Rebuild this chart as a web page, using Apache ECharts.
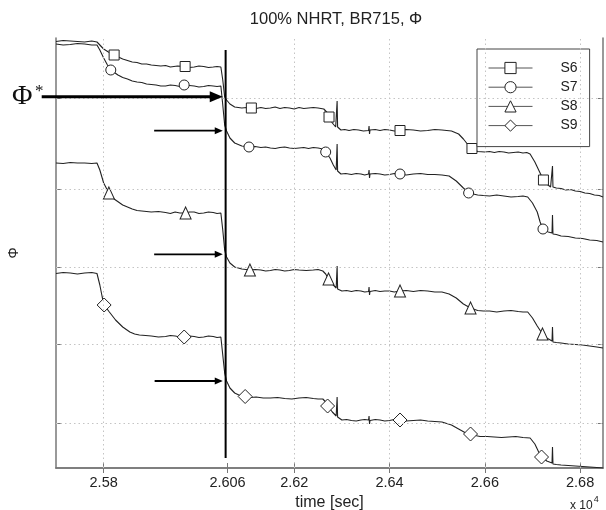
<!DOCTYPE html>
<html><head><meta charset="utf-8">
<script src="https://cdn.jsdelivr.net/npm/echarts@6/dist/echarts.min.js"></script>
<style>html,body{margin:0;padding:0;background:#fff}#c{width:606px;height:510px}</style>
</head><body><div id="c"></div>
<script>
const seriesNames = ['S6', 'S7', 'S8', 'S9'];
const xTickValues = [25800, 26060, 26200, 26400, 26600, 26800];
const xTickLabels = ['2.58', '2.606', '2.62', '2.64', '2.66', '2.68'];
const xGridValues = [25800, 26200, 26400, 26600, 26800];
const yTickValues = [45, 124, 201, 279, 370];

// [time (s), Φ (arbitrary units)]
const s6 = [[25700,426.5],[25715,427.5],[25730,427],[25745,426.5],[25760,426],[25775,427],[25786,426],[25792,423],[25800,419],[25810,416],[25822,413],[25840,409],[25850,407.5],[25860,406],[25870,405.5],[25880,404],[25890,404],[25900,403],[25910,402.5],[25920,402],[25930,402.5],[25940,401],[25955,402],[25971,401.5],[25980,400.5],[25990,401],[26000,402],[26010,401.5],[26020,400.5],[26030,401],[26038,401.5],[26046,401],[26050,388],[26054,371],[26058,368],[26065,364],[26075,361],[26090,360],[26100,360.5],[26110,360],[26120,359.5],[26130,360.5],[26140,359.5],[26150,360],[26160,361],[26170,359.5],[26180,360.5],[26190,360],[26200,359],[26210,360.5],[26220,359.5],[26230,360],[26240,360.5],[26250,360],[26262,359],[26268,356],[26273,351],[26280,345],[26287,341],[26290,367],[26291,341],[26298,338],[26306,338.5],[26315,337.5],[26325,338.5],[26335,338],[26345,337],[26356,337.5],[26357,342],[26358,334],[26359,338],[26370,338.5],[26380,337.5],[26390,338.5],[26400,338],[26410,337],[26422,337.5],[26435,338.5],[26450,338],[26465,337],[26480,337.5],[26495,338.5],[26510,338],[26520,337.5],[26530,337],[26545,334],[26555,329],[26565,323],[26573,319.5],[26585,316.5],[26600,316],[26610,316.5],[26620,315.5],[26630,316.5],[26640,316],[26650,315],[26660,315.5],[26670,316],[26680,315],[26688,315.5],[26695,314],[26705,306],[26715,296],[26723,288],[26730,284],[26738,281],[26742,302],[26743,281],[26750,280],[26760,279.5],[26770,278],[26780,278.5],[26790,277],[26800,276.5],[26810,275],[26820,274.5],[26830,273],[26840,272.5],[26848,271]];
const s7 = [[25700,424],[25715,423],[25730,423.5],[25745,424.5],[25760,424],[25775,423],[25786,423],[25792,418],[25800,410],[25808,403],[25815,398],[25830,393],[25840,390.5],[25850,389],[25860,387],[25870,386],[25880,385.5],[25890,384],[25900,383.5],[25910,383],[25920,382],[25930,382],[25940,383],[25950,382.5],[25960,381.5],[25969,383],[25980,382.5],[25990,382],[26000,381],[26010,381.5],[26020,382.5],[26030,382],[26038,381.5],[26046,382],[26050,363],[26054,343],[26058,337],[26065,330],[26075,325],[26090,322],[26105,321],[26118,321.5],[26130,320.5],[26140,321],[26150,320],[26160,319.5],[26170,320.5],[26180,321],[26190,320],[26200,319.5],[26210,320],[26220,320.5],[26230,319.5],[26240,320.5],[26250,320],[26260,319],[26266,316],[26275,310],[26282,303],[26288,298],[26290,324],[26291,297],[26298,294],[26308,294.5],[26320,293.5],[26330,294.5],[26340,294],[26348,293],[26356,294],[26357,298],[26358,290],[26359,294],[26370,294.5],[26380,294],[26390,293],[26400,293.5],[26410,294.5],[26422,294],[26435,293],[26450,294],[26465,294.5],[26480,293.5],[26495,293.5],[26510,293],[26525,292],[26540,287],[26555,280],[26566,275],[26585,273],[26597,272.5],[26610,272],[26625,273],[26640,272],[26655,271],[26670,271.5],[26680,272],[26690,271],[26700,265],[26710,256],[26716,246],[26722,239],[26733,236],[26741,235],[26742,253],[26743,234],[26750,233.5],[26760,232],[26775,231.5],[26790,230],[26805,229.5],[26820,228],[26835,227.5],[26848,226]];
const s8 = [[25700,305],[25715,304.5],[25730,305.5],[25745,305],[25760,305],[25775,304.5],[25786,305],[25792,298],[25800,285],[25811,275],[25822,269],[25840,263],[25850,261],[25860,259],[25870,257.5],[25880,257],[25890,256.5],[25900,256],[25915,256.5],[25930,255.5],[25940,254.5],[25950,256],[25960,255],[25972,255],[25980,256],[25990,256],[26000,254.5],[26010,255],[26020,256],[26030,255.5],[26038,254.5],[26046,255],[26050,238],[26054,218],[26058,211],[26065,205],[26075,201],[26090,199],[26107,198],[26118,198.5],[26130,198],[26140,197],[26150,197.5],[26160,198.5],[26170,198],[26180,197],[26190,197.5],[26200,198.5],[26210,198],[26225,197.5],[26240,198],[26250,198.5],[26260,197],[26266,194],[26272,189],[26280,184],[26288,180],[26290,202],[26291,179],[26300,177],[26310,177.5],[26320,176.5],[26330,177.5],[26340,177],[26348,176],[26356,176.5],[26357,181],[26358,173],[26359,176.5],[26370,177.5],[26380,176.5],[26390,177],[26400,177],[26410,176],[26422,177],[26435,177.5],[26450,176.5],[26465,177.5],[26480,177],[26495,176],[26510,176],[26525,174],[26540,170],[26555,164],[26570,160],[26585,157.5],[26597,157],[26610,157],[26625,156],[26640,157],[26655,157.5],[26670,156.5],[26680,156],[26690,156],[26700,150],[26710,142],[26721,134],[26730,130],[26741,127],[26742,141],[26743,126],[26750,125.5],[26760,125],[26775,124],[26790,123.5],[26805,123],[26820,122],[26835,121],[26848,120]];
const s9 = [[25700,194.5],[25715,195.5],[25730,195],[25745,194],[25760,195],[25775,195.5],[25786,194.5],[25792,183],[25797,171],[25801,163],[25812,156],[25825,148],[25840,141],[25855,136],[25865,134],[25875,133],[25888,132.5],[25900,132],[25915,131],[25930,131.5],[25940,132.5],[25950,132],[25960,131],[25969,131],[25980,132],[25990,131.5],[26000,130.5],[26010,131],[26020,132],[26030,131.5],[26038,130.5],[26046,131],[26050,113],[26054,95],[26058,87],[26065,80],[26075,75],[26088,72],[26097,71.5],[26108,70.5],[26120,71],[26135,70],[26150,70],[26165,70.5],[26180,69.5],[26195,69],[26210,70],[26225,70.5],[26240,69.5],[26250,69],[26260,69],[26266,66],[26270,62],[26280,56],[26288,52],[26290,71],[26291,51],[26300,48],[26310,48.5],[26320,47.5],[26330,47],[26340,48],[26348,48.5],[26356,48],[26357,52],[26358,44],[26359,47.5],[26370,48.5],[26380,48],[26390,47],[26400,47.5],[26410,48.5],[26422,48],[26435,47],[26450,47.5],[26465,48],[26480,47],[26495,46.5],[26510,46],[26530,43],[26545,39],[26560,35],[26570,34],[26580,32.5],[26590,31.5],[26605,31.5],[26620,31],[26635,30.5],[26650,31],[26665,31.5],[26680,30.5],[26695,30],[26705,24],[26713,16],[26719,11],[26730,7],[26741,5],[26742,21],[26743,4],[26750,3.5],[26760,3],[26775,2.5],[26790,2],[26805,1.5],[26820,1],[26835,0.5],[26848,0]];

// times at which markers are drawn
const s6Markers = [25822, 25971, 26110, 26273, 26422, 26573, 26723];
const s7Markers = [25815, 25969, 26105, 26266, 26422, 26566, 26722];
const s8Markers = [25811, 25972, 26107, 26272, 26422, 26570, 26721];
const s9Markers = [25801, 25969, 26097, 26270, 26422, 26570, 26719];

// annotations (data coordinates)
const cutTime = 26056;
const cutSpan = [10, 418];
const arrowStart = [25670, 25906, 25906, 25907];
const arrowEnd = 26050;
const arrowLevel = [371.3, 337.3, 213.7, 87];

const FONT = "'Liberation Sans', Arial, Helvetica, sans-serif";
const chart = echarts.init(document.getElementById('c'), null, {renderer: 'canvas'});

function lineSeries(name, data, markers, symbol, size) {
  return {
    name, type: 'line', data, symbol,
    symbolSize: v => (markers.indexOf(v[0]) >= 0 ? size : 0),
    showSymbol: true, showAllSymbol: true,
    lineStyle: {color: '#222', width: 1.1},
    itemStyle: {color: '#fff', borderColor: '#222', borderWidth: 1},
    emphasis: {disabled: true}, z: 3, animation: false
  };
}
const axisLineStyle = {show: true, lineStyle: {color: '#777', width: 1.5}};
const gridLineStyle = {color: '#c4c4c4', width: 1, type: [1.5, 3]};

const option = {
  animation: false,
  backgroundColor: '#fff',
  title: {text: '100% NHRT, BR715, \u03A6', left: 331, top: 6, textAlign: 'center',
    textStyle: {fontFamily: FONT, fontSize: 16.5, fontWeight: 'normal', color: '#222'}},
  grid: {left: 56, right: 3, top: 38, bottom: 42, outerBoundsMode: 'none', containLabel: false},
  legend: {
    data: seriesNames, orient: 'vertical', left: 477, top: 49,
    padding: [12, 12, 14, 11], itemGap: 5.2, itemWidth: 44, itemHeight: 14,
    backgroundColor: '#fff', borderColor: '#444', borderWidth: 1, borderRadius: 0,
    textStyle: {fontFamily: FONT, fontSize: 14, color: '#222', padding: [0, 0, 0, 23]},
    itemStyle: {color: '#fff', borderColor: '#222', borderWidth: 1},
    lineStyle: {color: '#555', width: 1},
    selectedMode: false, z: 5
  },
  xAxis: [
    {type: 'value', min: 25700, max: 26848, position: 'bottom',
      name: 'time [sec]', nameLocation: 'middle', nameGap: 23,
      nameTextStyle: {fontFamily: FONT, fontSize: 16, color: '#222'},
      axisLine: axisLineStyle,
      axisTick: {show: true, inside: true, length: 5, customValues: xTickValues, lineStyle: {color: '#777'}},
      axisLabel: {show: true, customValues: xTickValues, margin: 7, fontFamily: FONT, fontSize: 14.5, color: '#222',
        formatter: v => xTickLabels[xTickValues.indexOf(v)]},
      splitLine: {show: false}},
    {type: 'value', min: 25700, max: 26848, position: 'top',
      axisLine: axisLineStyle,
      axisTick: {show: true, inside: true, length: 5, customValues: xTickValues, lineStyle: {color: '#777'}},
      axisLabel: {show: false}, splitLine: {show: false}}
  ],
  yAxis: [
    {type: 'value', min: 0, max: 430, position: 'left',
      name: '\u03A6', nameLocation: 'middle', nameGap: 35, nameRotate: 90,
      nameTextStyle: {fontFamily: FONT, fontSize: 14, color: '#222'},
      axisLine: axisLineStyle,
      axisTick: {show: true, inside: true, length: 5, customValues: yTickValues, lineStyle: {color: '#777'}},
      axisLabel: {show: false}, splitLine: {show: false}},
    {type: 'value', min: 0, max: 430, position: 'right',
      axisLine: axisLineStyle,
      axisTick: {show: true, inside: true, length: 5, customValues: yTickValues, lineStyle: {color: '#777'}},
      axisLabel: {show: false}, splitLine: {show: false}}
  ],
  series: [
    {name: 'grid', type: 'line', data: [], z: 1, silent: true,
      markLine: {silent: true, symbol: 'none', label: {show: false}, animation: false,
        lineStyle: gridLineStyle,
        data: xGridValues.map(v => ({xAxis: v})).concat(yTickValues.map(v => ({yAxis: v})))}},
    lineSeries('S6', s6, s6Markers, 'rect', 10),
    lineSeries('S7', s7, s7Markers, 'circle', 10),
    lineSeries('S8', s8, s8Markers, 'triangle', [11, 12]),
    lineSeries('S9', s9, s9Markers, 'diamond', 14)
  ]
};
chart.setOption(option);

const toPx = (x, y) => chart.convertToPixel({xAxisIndex: 0, yAxisIndex: 0}, [x, y]);
const g = [];
const c0 = toPx(cutTime, cutSpan[0]), c1 = toPx(cutTime, cutSpan[1]);
g.push({type: 'line', z: 10, shape: {x1: c0[0], y1: c0[1], x2: c1[0], y2: c1[1]}, style: {stroke: '#000', lineWidth: 2}});
arrowStart.forEach((xs, i) => {
  const p0 = toPx(xs, arrowLevel[i]), p1 = toPx(arrowEnd, arrowLevel[i]);
  const bold = i === 0;
  const hl = bold ? 13 : 8, hw = bold ? 5.5 : 3.5, lw = bold ? 3 : 1.8;
  g.push({type: 'line', z: 10, shape: {x1: p0[0], y1: p0[1], x2: p1[0] - hl + 1, y2: p1[1]}, style: {stroke: '#000', lineWidth: lw}});
  g.push({type: 'polygon', z: 10, shape: {points: [[p1[0], p1[1]], [p1[0] - hl, p1[1] - hw], [p1[0] - hl, p1[1] + hw]]}, style: {fill: '#000'}});
});
g.push({type: 'text', z: 10, left: 12, top: 83, style: {text: '\u03A6', font: "28px 'Liberation Serif', 'DejaVu Serif', serif", fill: '#111'}});
g.push({type: 'text', z: 10, left: 35, top: 83, style: {text: '*', font: "17px 'Liberation Serif', 'DejaVu Serif', serif", fill: '#111'}});
g.push({type: 'text', z: 10, left: 570, top: 495, style: {
  text: '{a|x 10}{b|4}', rich: {a: {fontFamily: FONT, fontSize: 12, fill: '#222', padding: [6, 0, 0, 0]}, b: {fontFamily: FONT, fontSize: 9, fill: '#222', padding: [0, 0, 6, 1]}}}});
chart.setOption({graphic: g});
</script></body></html>
